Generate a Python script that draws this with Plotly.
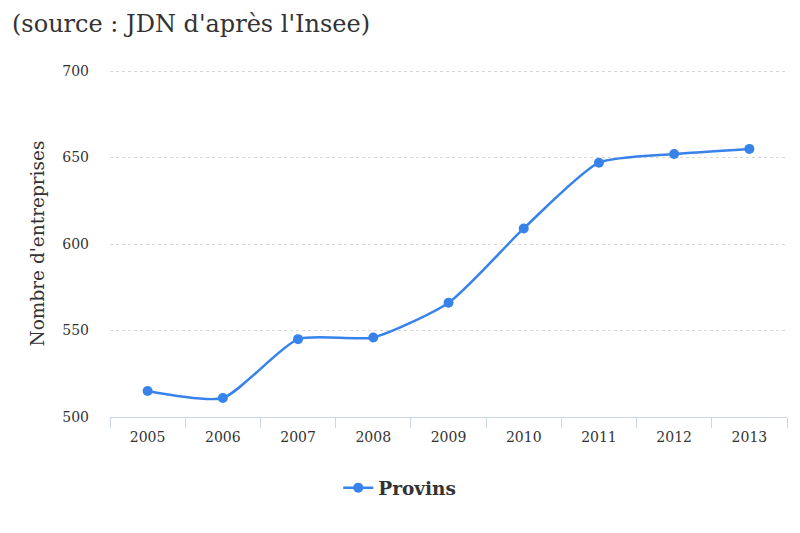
import plotly.graph_objects as go

years = ["2005", "2006", "2007", "2008", "2009", "2010", "2011", "2012", "2013"]
provins = [515, 511, 545, 546, 566, 609, 647, 652, 655]
y_ticks = [500, 550, 600, 650, 700]

FONT = "DejaVu Serif"
BLUE = "#3883ea"

fig = go.Figure()
fig.add_trace(go.Scatter(
    x=years, y=provins, name="Provins", mode="lines+markers",
    line=dict(color=BLUE, width=2.5, shape="spline", smoothing=0.6),
    marker=dict(color=BLUE, size=10),
))

fig.update_layout(
    width=800, height=533,
    paper_bgcolor="white", plot_bgcolor="white",
    margin=dict(l=110, r=13, t=70, b=116),
    font=dict(family=FONT, color="#333333", size=14),
    title=dict(text="(source : JDN d'après l'Insee)", x=0.015, xanchor="left",
               y=0.956, yanchor="middle",
               font=dict(family=FONT, size=24, color="#333333")),
    showlegend=True,
    legend=dict(orientation="h", x=0.428, xanchor="center", y=-0.205, yanchor="middle",
                font=dict(family=FONT, size=18.5, color="#333333", weight="bold")),
    xaxis=dict(type="category", range=[-0.5, 8.5], showgrid=False,
               showline=True, linecolor="#ccd6eb", linewidth=1,
               ticks="outside", tickson="boundaries", ticklen=10, tickcolor="#ccd6eb",
               ticklabelstandoff=7,
               tickfont=dict(family=FONT, size=14, color="#333333")),
    yaxis=dict(range=[500, 700.6], tickvals=y_ticks, showgrid=True,
               gridcolor="#d8d8d8", griddash="dot", gridwidth=1,
               zeroline=False, showline=False, ticks="",
               ticklabelstandoff=20,
               tickfont=dict(family=FONT, size=14, color="#333333")),
)
fig.update_yaxes(title=dict(text="Nombre d'entreprises", standoff=12,
                            font=dict(family=FONT, size=18.5, color="#333333")))

fig.write_html("out.html")
